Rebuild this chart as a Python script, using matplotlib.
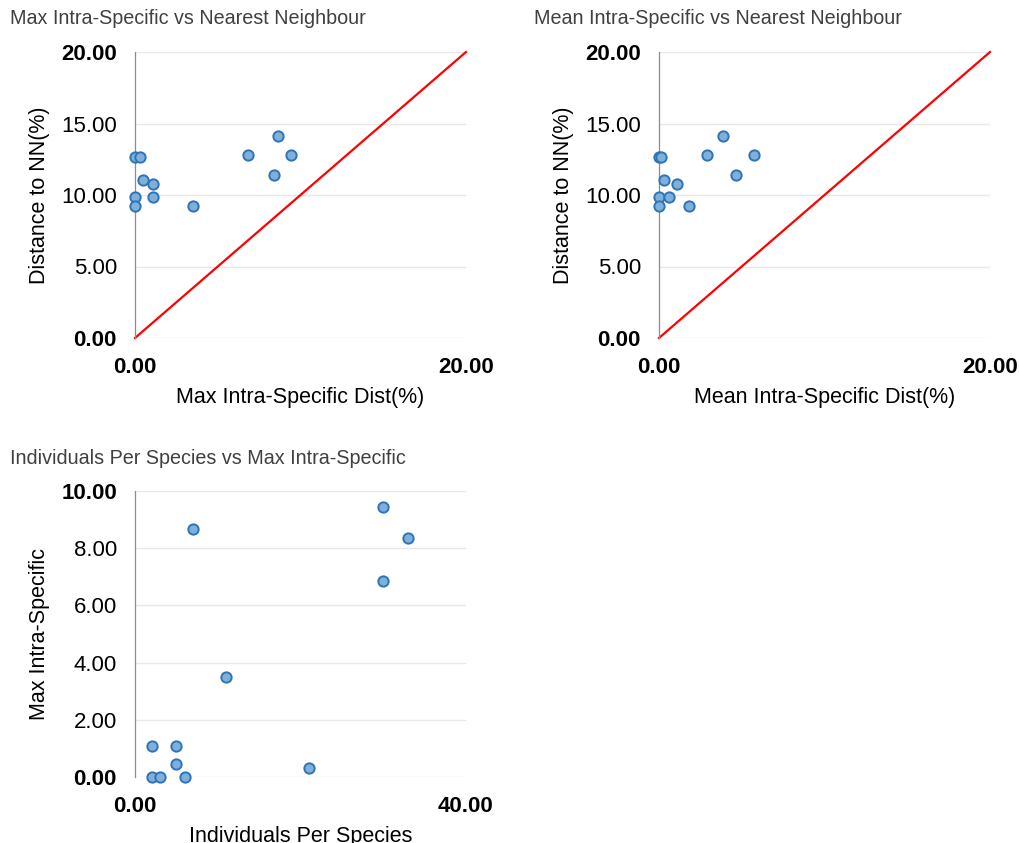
import numpy as np
import matplotlib.pyplot as plt

plt.rcParams['font.family'] = ['Liberation Sans', 'DejaVu Sans']

# one row per species
individuals = [2, 21, 5, 2, 3, 5, 6, 11, 30, 7, 30, 33]
max_intra = [0.0, 0.33, 0.47, 1.07, 0.0, 1.07, 0.0, 3.49, 6.85, 8.67, 9.44, 8.37]
mean_intra = [0.0, 0.12, 0.28, 1.07, 0.0, 0.62, 0.0, 1.83, 2.92, 3.85, 5.71, 4.66]
nn_dist = [12.63, 12.63, 11.08, 10.78, 9.87, 9.87, 9.26, 9.26, 12.77, 14.14, 12.77, 11.39]

yticks_nn = [0, 5, 10, 15, 20]
yticks_ind = [0, 2, 4, 6, 8, 10]

W, H = 1019, 843
fig = plt.figure(figsize=(W / 100, H / 100), dpi=100)

fill_c = '#7fb0db'
edge_c = '#2e75b6'
grid_c = '#e8e8e8'
spine_c = '#8c8c8c'


def style_axes(ax, xmax, yticks, xlabel, ylabel, title, title_x, title_y):
    ax.set_xlim(0, xmax)
    ax.set_ylim(0, yticks[-1])
    ax.set_xticks([0, xmax])
    ax.set_xticklabels(['%.2f' % 0, '%.2f' % xmax], fontsize=16, fontweight='bold')
    ax.set_yticks(yticks)
    ax.set_yticklabels(['%.2f' % v for v in yticks], fontsize=16)
    for i in (0, len(yticks) - 1):
        ax.get_yticklabels()[i].set_fontweight('bold')
    ax.tick_params(axis='both', length=0, colors='black')
    ax.tick_params(axis='y', pad=13)
    ax.tick_params(axis='x', pad=14)
    for s in ('top', 'right', 'bottom'):
        ax.spines[s].set_visible(False)
    ax.spines['left'].set_color(spine_c)
    ax.spines['left'].set_linewidth(0.9)
    ax.grid(axis='y', color=grid_c, linewidth=1)
    ax.set_axisbelow(True)
    ax.set_xlabel(xlabel, fontsize=15.5, labelpad=6)
    ax.set_ylabel(ylabel, fontsize=15.5, labelpad=8)
    fig.text(title_x / W, 1 - title_y / H, title, fontsize=14.2,
             color='#404040', ha='left', va='center')


ax1 = fig.add_axes([135 / W, 1 - 338 / H, 331 / W, 286 / H])
ax1.plot([0, 20], [0, 20], color='#ff0000', linewidth=1.6, clip_on=False)
ax1.scatter(max_intra, nn_dist, s=55, color=fill_c, edgecolors=edge_c,
            linewidths=1.4, zorder=3, clip_on=False)
style_axes(ax1, 20, yticks_nn, 'Max Intra-Specific Dist(%)', 'Distance to NN(%)',
           'Max Intra-Specific vs Nearest Neighbour', 10, 19)

ax2 = fig.add_axes([659 / W, 1 - 338 / H, 331 / W, 286 / H])
ax2.plot([0, 20], [0, 20], color='#ff0000', linewidth=1.6, clip_on=False)
ax2.scatter(mean_intra, nn_dist, s=55, color=fill_c, edgecolors=edge_c,
            linewidths=1.4, zorder=3, clip_on=False)
style_axes(ax2, 20, yticks_nn, 'Mean Intra-Specific Dist(%)', 'Distance to NN(%)',
           'Mean Intra-Specific vs Nearest Neighbour', 534, 19)

ax3 = fig.add_axes([135 / W, 1 - 777 / H, 331 / W, 286 / H])
ax3.scatter(individuals, max_intra, s=55, color=fill_c, edgecolors=edge_c,
            linewidths=1.4, zorder=3, clip_on=False)
style_axes(ax3, 40, yticks_ind, 'Individuals Per Species', 'Max Intra-Specific',
           'Individuals Per Species vs Max Intra-Specific', 10, 458)

fig.savefig('out.png', dpi=100)
